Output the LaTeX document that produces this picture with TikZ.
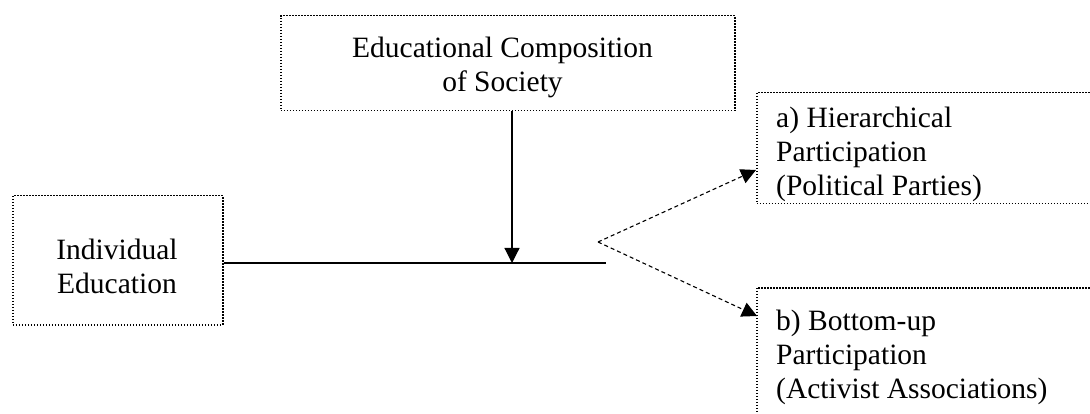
\documentclass[tikz,border=0pt]{standalone}
\usepackage{fontspec}
\setmainfont{Liberation Serif}
\usetikzlibrary{arrows.meta}
\begin{document}
\begin{tikzpicture}[x=1pt,y=-1pt,
  box/.style={draw, line width=1.5pt, dash pattern=on 1.5pt off 1.5pt, inner sep=0pt},
  txt/.style={inner sep=0pt, font=\fontsize{29.5}{34}\selectfont},
  conn/.style={line width=1.2pt},
  tip/.style={-{Triangle[length=15pt,width=15pt]}},
  dsh/.style={line width=1.1pt, dash pattern=on 4pt off 3pt}
]
\useasboundingbox (0,0) rectangle (1090,414);
\clip (0,0) rectangle (1090,414);
% boxes
\node[box, minimum width=454pt, minimum height=95pt, anchor=north west] (soc) at (280,15) {};
\node[box, minimum width=210pt, minimum height=129pt, anchor=north west] (ind) at (12,195) {};
\node[box, minimum width=360pt, minimum height=111pt, anchor=north west] (hp) at (756,92) {};
\node[box, minimum width=360pt, minimum height=150pt, anchor=north west] (bp) at (756,287) {};
% texts
\node[txt, anchor=base] (soc1) at (502.5,58) {Educational Composition};
\node[txt, anchor=base] (soc2) at (502.5,92) {of Society};
\node[txt, anchor=base] (ind1) at (117,260) {Individual};
\node[txt, anchor=base] (ind2) at (117,294) {Education};
\node[txt, anchor=base west] (hp1) at (776,128) {a) Hierarchical};
\node[txt, anchor=base west] (hp2) at (776,162) {Participation};
\node[txt, anchor=base west] (hp3) at (776,196) {(Political Parties)};
\node[txt, anchor=base west] (bp1) at (776,330) {b) Bottom-up};
\node[txt, anchor=base west] (bp2) at (776,364) {Participation};
\node[txt, anchor=base west] (bp3) at (776,398) {(Activist Associations)};
% connectors
\coordinate (j) at (606,263);
\coordinate (m) at (512,263);
\coordinate (s) at (598,242);
\coordinate (t1) at (756,170);
\coordinate (t2) at (757,316);
\draw[conn] (ind.east |- j) -- (j);
\draw[conn, tip] (soc.south -| m) -- (m);
\draw[dsh, tip] (s) -- (t1);
\draw[dsh, tip] (s) -- (t2);
\end{tikzpicture}
\end{document}
